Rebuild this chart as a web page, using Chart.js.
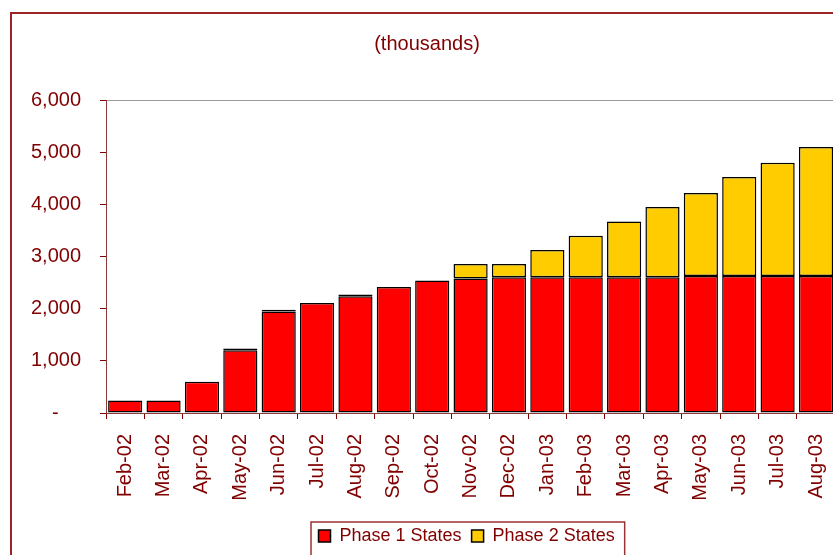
<!DOCTYPE html>
<html>
<head>
<meta charset="utf-8">
<script src="https://cdn.jsdelivr.net/npm/chart.js@4/dist/chart.umd.min.js"></script>
<style>
    html, body { margin: 0; padding: 0; background: #fff; overflow: hidden; }
    #frame {
        position: absolute; left: 10px; top: 12px; width: 900px; height: 600px;
        border-left: 2px solid #992626; border-top: 2px solid #992626;
    }
    #box { position: relative; width: 843px; height: 541px; }
</style>
</head>
<body>
<div id="frame">
    <div id="box"><canvas id="grafico"></canvas></div>
</div>
<script>
const months = ['Feb-02', 'Mar-02', 'Apr-02', 'May-02', 'Jun-02', 'Jul-02', 'Aug-02', 'Sep-02', 'Oct-02',
    'Nov-02', 'Dec-02', 'Jan-03', 'Feb-03', 'Mar-03', 'Apr-03', 'May-03', 'Jun-03', 'Jul-03', 'Aug-03'];
const phase1 = [240, 240, 600, 1205, 1945, 2110, 2240, 2415, 2540,
    2580, 2600, 2600, 2600, 2600, 2600, 2625, 2625, 2625, 2625];
const phase2 = [0, 0, 0, 33, 35, 0, 33, 0, 0,
    275, 255, 524, 798, 1073, 1349, 1591, 1898, 2172, 2473];
const yTickLabels = ['-    ', '1,000', '2,000', '3,000', '4,000', '5,000', '6,000'];

const darkRed = '#800000';
const fontFamily = 'Arial, "Liberation Sans", sans-serif';

// title centred on the whole chart, legend centred under the plot area inside a thin frame
const layoutTweaks = {
    id: 'layoutTweaks',
    afterLayout(chart) {
        const tb = chart.titleBlock;
        const tShift = 415 - (tb.left + tb.right) / 2;
        tb.left += tShift;
        tb.right += tShift;

        const lg = chart.legend, ca = chart.chartArea;
        const shift = (ca.left + ca.right) / 2 - (lg.left + lg.right) / 2 - 4;
        lg.left += shift;
        lg.right += shift;
    },
    afterDraw(chart) {
        const boxes = chart.legend.legendHitBoxes;
        if (!boxes || !boxes.length) return;
        const first = boxes[0], last = boxes[boxes.length - 1];
        const ctx = chart.ctx;
        ctx.save();
        ctx.strokeStyle = '#9a3333';
        ctx.lineWidth = 1.5;
        ctx.strokeRect(first.left - 7.5, first.top - 5, last.left + last.width - first.left + 17.5, 80);
        ctx.restore();
    }
};

const ctx = document.getElementById('grafico').getContext('2d');
new Chart(ctx, {
    type: 'bar',
    data: {
        labels: months,
        datasets: [{
            label: 'Phase 1 States',
            data: phase1,
            backgroundColor: '#FF0000',
            borderColor: '#000000',
            borderWidth: 1.5,
            borderSkipped: false,
            barPercentage: 0.89,
            categoryPercentage: 1,
        }, {
            label: 'Phase 2 States',
            data: phase2,
            backgroundColor: '#FFCC00',
            borderColor: '#000000',
            borderWidth: 1.5,
            borderSkipped: false,
            barPercentage: 0.89,
            categoryPercentage: 1,
        }],
    },
    options: {
        responsive: true,
        maintainAspectRatio: false,
        animation: false,
        layout: { padding: { left: 0, right: 0, top: 0, bottom: 0 } },
        scales: {
            x: {
                stacked: true,
                afterFit: scale => { scale.height = 104; },
                border: { color: '#8c3c3c', width: 1 },
                grid: { offset: true, drawOnChartArea: false, tickLength: 6, tickColor: darkRed },
                ticks: {
                    color: darkRed, font: { family: fontFamily, size: 20 },
                    minRotation: 90, maxRotation: 90, autoSkip: false, padding: 15,
                },
            },
            y: {
                stacked: true,
                min: 0,
                max: 6000,
                afterFit: scale => { scale.width = 94; },
                border: { color: '#8c3c3c', width: 1 },
                grid: {
                    drawOnChartArea: true,
                    color: c => (c.tick && c.tick.value === 6000 ? '#9a9a9a' : 'rgba(0,0,0,0)'),
                    tickLength: 6,
                    tickColor: darkRed,
                },
                ticks: {
                    stepSize: 1000,
                    color: darkRed, font: { family: fontFamily, size: 20 }, padding: 19,
                    callback: value => yTickLabels[Math.round(value / 1000)],
                },
            },
        },
        plugins: {
            title: {
                display: true,
                text: '(thousands)',
                color: darkRed,
                font: { family: fontFamily, size: 20, weight: 'normal' },
                padding: { top: 18, bottom: 44 },
            },
            legend: {
                display: true,
                position: 'bottom',
                labels: {
                    color: darkRed, font: { family: fontFamily, size: 18 },
                    boxWidth: 12, boxHeight: 12, padding: 10,
                },
            },
            tooltip: { enabled: false },
        },
    },
    plugins: [layoutTweaks],
});
</script>
</body>
</html>
